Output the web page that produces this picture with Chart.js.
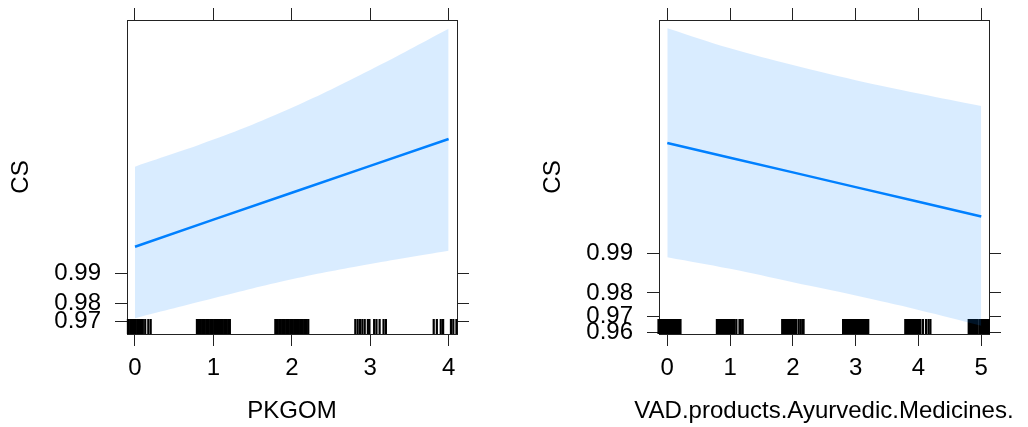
<!DOCTYPE html>
<html>
<head>
<meta charset="utf-8">
<script src="https://cdn.jsdelivr.net/npm/chart.js@4"></script>
<style>
  html, body { margin: 0; padding: 0; background: #fff; }
  #wrap { position: relative; width: 1028px; height: 427px; }
  canvas { position: absolute; top: 0; }
  #left { left: 0; }
  #right { left: 514px; }
</style>
</head>
<body>
<div id="wrap">
  <canvas id="left" width="514" height="427"></canvas>
  <canvas id="right" width="514" height="427"></canvas>
</div>
<script>
// effect of PKGOM on CS (probability scale)
const pkgomX = [0, 1, 2, 3, 4];
const pkgomFit = [0.99457, 0.99709, 0.99844, 0.99916, 0.99955];
const pkgomUpper = [0.999145, 0.999543, 0.999782, 0.999909, 0.999965];
const pkgomLower = [0.9722, 0.98229, 0.98853, 0.99192, 0.99405];
const pkgomRug = [
  -0.09, -0.08, -0.06, -0.05, -0.03, -0.02, 0.00, 0.01, 0.03, 0.04, 0.05, 0.07, 0.08, 0.10, 0.13, 0.17, 0.20,
  0.79, 0.81, 0.82, 0.84, 0.86, 0.87, 0.89, 0.91, 0.92, 0.94, 0.96, 0.97, 0.99, 1.01, 1.02, 1.04, 1.06, 1.07, 1.09, 1.11, 1.12, 1.14, 1.16, 1.17, 1.19, 1.21,
  1.79, 1.81, 1.82, 1.84, 1.86, 1.88, 1.89, 1.91, 1.93, 1.94, 1.96, 1.98, 1.99, 2.01, 2.03, 2.04, 2.06, 2.08, 2.09, 2.11, 2.13, 2.14, 2.16, 2.18, 2.19, 2.21,
  2.81, 2.84, 2.87, 2.90, 2.93, 2.97, 2.99, 3.05, 3.08, 3.12, 3.17, 3.20,
  3.81, 3.85, 3.90, 3.93, 4.03, 4.06, 4.10
];
const pkgomXTicks = [0, 1, 2, 3, 4];
const pkgomYTicks = [0.97, 0.98, 0.99];
const pkgomYLabels = ['0.97', '0.98', '0.99'];

// effect of VAD.products.Ayurvedic.Medicines. on CS
const vadX = [0, 1, 2, 3, 4, 5];
const vadFit = [0.998625, 0.998210, 0.997671, 0.996967, 0.996054, 0.994868];
const vadUpper = [0.999825, 0.999749, 0.999661, 0.999555, 0.999435, 0.999293];
const vadLower = [0.98938, 0.98694, 0.98342, 0.97905, 0.97304, 0.96453];
const vadRug = [
  -0.14, -0.12, -0.10, -0.08, -0.06, -0.05, -0.03, -0.01, 0.01, 0.03, 0.05, 0.06, 0.08, 0.10, 0.12, 0.14, 0.16, 0.18, 0.19, 0.21,
  0.79, 0.81, 0.83, 0.85, 0.87, 0.88, 0.90, 0.92, 0.94, 0.96, 0.98, 1.00, 1.01, 1.03, 1.05, 1.07, 1.10, 1.15, 1.17, 1.20,
  1.83, 1.85, 1.87, 1.89, 1.91, 1.93, 1.95, 1.97, 2.00, 2.02, 2.05, 2.09, 2.12, 2.15, 2.17,
  2.80, 2.82, 2.84, 2.86, 2.88, 2.90, 2.92, 2.94, 2.96, 2.98, 3.00, 3.02, 3.04, 3.06, 3.08, 3.10, 3.12, 3.14, 3.16, 3.18, 3.20,
  3.79, 3.81, 3.83, 3.85, 3.87, 3.89, 3.91, 3.93, 3.95, 3.97, 3.99, 4.01, 4.03, 4.07, 4.12, 4.16, 4.19,
  4.80, 4.82, 4.84, 4.86, 4.88, 4.90, 4.92, 4.94, 4.97, 4.99, 5.01, 5.03, 5.05, 5.07, 5.09, 5.11, 5.12
];
const vadXTicks = [0, 1, 2, 3, 4, 5];
const vadYTicks = [0.96, 0.97, 0.98, 0.99];
const vadYLabels = ['0.96', '0.97', '0.98', '0.99'];

const FONT = { family: '"Liberation Sans", Arial, Helvetica, sans-serif', size: 24 };
const BOX = '#222';
const LINE = '#0080ff';
const BAND = 'rgba(0, 128, 255, 0.15)';

// y axis is drawn on the logit scale, labelled in probabilities
const logit = p => Math.log(p / (1 - p));
const pts = (xs, ys) => xs.map((x, i) => ({ x: x, y: logit(ys[i]) }));

// rug of observed x values along the bottom of the panel
const rugPlugin = (values) => ({
  id: 'rug',
  beforeDatasetsDraw(chart) {
    const { ctx, chartArea, scales } = chart;
    ctx.save();
    ctx.strokeStyle = '#000';
    ctx.lineWidth = 2.2;
    values.forEach(v => {
      const px = scales.x.getPixelForValue(v);
      ctx.beginPath();
      ctx.moveTo(px, chartArea.bottom);
      ctx.lineTo(px, chartArea.bottom - 15);
      ctx.stroke();
    });
    ctx.restore();
  }
});

// x title drawn by hand so long names are not squeezed to the axis width
const xTitlePlugin = (text) => ({
  id: 'xTitle',
  afterDraw(chart) {
    const { ctx, chartArea } = chart;
    ctx.save();
    ctx.font = `${FONT.size}px ${FONT.family}`;
    ctx.fillStyle = '#000';
    ctx.textAlign = 'center';
    ctx.textBaseline = 'middle';
    ctx.fillText(text, (chartArea.left + chartArea.right) / 2, 411);
    ctx.restore();
  }
});

const noPad = (s) => { s.paddingTop = 0; s.paddingBottom = 0; s.paddingLeft = 0; s.paddingRight = 0; };

const drawPanel = (id, p) => {
  const grid = { display: true, drawOnChartArea: false, drawTicks: true, tickLength: 12, color: BOX, lineWidth: 1 };
  const border = { display: true, color: BOX, width: 1 };
  const setTicks = (vals) => (scale) => { scale.ticks = vals.map(v => ({ value: v })); };

  return new Chart(document.getElementById(id), {
    type: 'line',
    data: {
      datasets: [
        { data: pts(p.x, p.fit), borderColor: LINE, borderWidth: 2.5, pointRadius: 0, fill: false },
        { data: pts(p.x, p.upper), borderColor: 'transparent', borderWidth: 0, pointRadius: 0,
          fill: '+1', backgroundColor: BAND, tension: 0.4 },
        { data: pts(p.x, p.lower), borderColor: 'transparent', borderWidth: 0, pointRadius: 0,
          fill: false, tension: 0.4 }
      ]
    },
    options: {
      responsive: false,
      animation: false,
      layout: { padding: 0 },
      plugins: { legend: { display: false }, tooltip: { enabled: false } },
      scales: {
        x: {
          type: 'linear', position: 'bottom', min: p.xMin, max: p.xMax,
          grid: grid, border: border,
          afterBuildTicks: setTicks(p.xTicks),
          afterFit: (s) => { s.height = 93; noPad(s); },
          ticks: { color: '#000', font: FONT, padding: 8, autoSkip: false, maxRotation: 0 }
        },
        x2: {
          type: 'linear', position: 'top', min: p.xMin, max: p.xMax,
          grid: grid, border: border,
          afterBuildTicks: setTicks(p.xTicks),
          afterFit: (s) => { s.height = 20; noPad(s); },
          ticks: { display: false }
        },
        y: {
          type: 'linear', position: 'left', min: p.yMin, max: p.yMax,
          grid: grid, border: border,
          afterBuildTicks: setTicks(p.yTicks.map(logit)),
          afterFit: (s) => { s.width = p.leftWidth; noPad(s); },
          ticks: { color: '#000', font: FONT, padding: 14, autoSkip: false,
                   callback: (v, i) => p.yLabels[i] },
          title: { display: true, text: 'CS', color: '#000', font: FONT, padding: { top: p.titlePad, bottom: 0 } }
        },
        y2: {
          type: 'linear', position: 'right', min: p.yMin, max: p.yMax,
          grid: grid, border: border,
          afterBuildTicks: setTicks(p.yTicks.map(logit)),
          afterFit: (s) => { s.width = p.rightWidth; noPad(s); },
          ticks: { display: false }
        }
      }
    },
    plugins: [rugPlugin(p.rug), xTitlePlugin(p.xTitle)]
  });
};

drawPanel('left', {
  x: pkgomX, fit: pkgomFit, upper: pkgomUpper, lower: pkgomLower, rug: pkgomRug,
  xTicks: pkgomXTicks, yTicks: pkgomYTicks, yLabels: pkgomYLabels,
  xMin: -0.102, xMax: 4.107, yMin: 3.19, yMax: 10.46,
  xTitle: 'PKGOM', leftWidth: 127, rightWidth: 57, titlePad: 7
});

drawPanel('right', {
  x: vadX, fit: vadFit, upper: vadUpper, lower: vadLower, rug: vadRug,
  xTicks: vadXTicks, yTicks: vadYTicks, yLabels: vadYLabels,
  xMin: -0.132, xMax: 5.123, yMin: 3.154, yMax: 8.80,
  xTitle: 'VAD.products.Ayurvedic.Medicines.', leftWidth: 145, rightWidth: 39, titlePad: 25
});
</script>
</body>
</html>
